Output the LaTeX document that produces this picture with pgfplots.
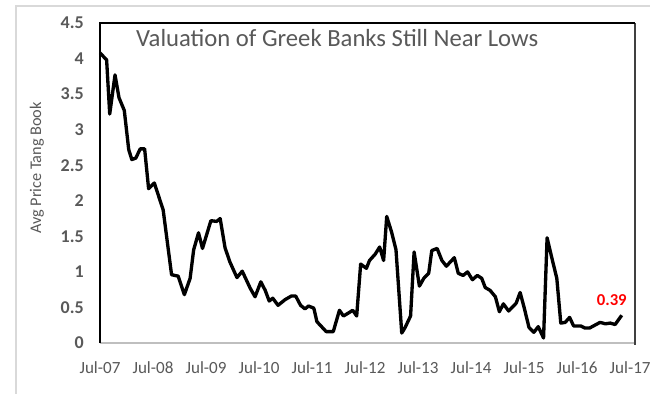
\documentclass[border=0pt]{standalone}
\usepackage{pgfplots}
\pgfplotsset{compat=1.18}
\usepackage{fontspec}
\setmainfont{Carlito}
\definecolor{txtgray}{HTML}{595959}
\definecolor{axgray}{HTML}{BFBFBF}
\definecolor{outergray}{HTML}{D9D9D9}
\definecolor{rightgray}{HTML}{404040}
\begin{document}
\begin{tikzpicture}
\useasboundingbox (0,0) rectangle (487.5pt,294.75pt);
\fill[white] (0,0) rectangle (487.5pt,294.75pt);
\draw[outergray, line width=1.1pt] (12pt,-20pt) -- (12pt,290.25pt) -- (520pt,290.25pt);
\begin{axis}[
  at={(75pt,37.5pt)}, anchor=south west,
  scale only axis, width=401.25pt, height=240pt,
  xmin=0, xmax=121.1, ymin=0, ymax=4.5,
  xtick={0,12,24,36,48,60,72,84,96,108,120},
  xticklabels={Jul-07,Jul-08,Jul-09,Jul-10,Jul-11,Jul-12,Jul-13,Jul-14,Jul-15,Jul-16,Jul-17},
  ytick={0,0.5,1,1.5,2,2.5,3,3.5,4,4.5},
  yticklabels={0,0.5,1,1.5,2,2.5,3,3.5,4,4.5},
  axis line style={draw=none},
  major tick length=0pt,
  /pgf/number format/assume math mode=true,
  xticklabel style={font=\fontsize{12.8}{14}\selectfont, text=txtgray, inner sep=0pt, anchor=north, yshift=-14pt},
  yticklabel style={font=\fontsize{13.5}{15}\selectfont\bfseries, text=txtgray, inner sep=0pt, anchor=east, xshift=-12pt},
  every axis y label/.style={at={(axis description cs:-0.118,0.547)}, anchor=center, rotate=90, font=\fontsize{12.2}{14}\selectfont, text=txtgray},
  ylabel={Avg Price Tang Book},
  clip=false,
]
\draw[axgray, line width=1.5pt] (rel axis cs:0,0) -- (rel axis cs:1,0);
\draw[rightgray, line width=1.1pt] (rel axis cs:1,-0.006) -- (rel axis cs:1,1);
\draw[black, line width=1.4pt] (rel axis cs:0,0) -- (rel axis cs:0,1) -- (rel axis cs:1,1);
\addplot[black, line width=2.5pt, line join=round, mark=none] coordinates {
(0,4.08) (1.5,3.98) (2.2,3.22) (3.4,3.77) (4.3,3.45) (5.5,3.27) (6.5,2.72) (7.2,2.58)
(8.1,2.60) (9.1,2.73) (10.1,2.73) (11.0,2.17) (12.3,2.25) (14.3,1.87) (16.2,0.96) (17.7,0.94)
(19.1,0.68) (20.4,0.91) (21.2,1.31) (22.3,1.55) (23.2,1.33) (25.1,1.72) (26.4,1.71) (27.2,1.75)
(28.3,1.34) (29.4,1.14) (31.0,0.92) (32.2,1.01) (34.0,0.77) (35.1,0.65) (36.4,0.86) (37.4,0.74)
(38.3,0.59) (39.1,0.63) (40.3,0.53) (41.9,0.61) (43.3,0.66) (44.3,0.66) (45.4,0.53) (46.4,0.48)
(47.2,0.52) (48.4,0.49) (49.1,0.30) (50.0,0.24) (51.2,0.16) (52.8,0.16) (54.2,0.46) (55.1,0.38)
(56.2,0.42) (57.2,0.46) (58.1,0.38) (59.0,1.11) (60.3,1.05) (61.0,1.16) (62.3,1.25) (63.3,1.35)
(64.2,1.16) (64.9,1.78) (66.0,1.56) (67.0,1.31) (68.3,0.14) (69.0,0.21) (70.3,0.38) (71.1,1.28)
(72.3,0.80) (73.3,0.91) (74.4,0.98) (75.1,1.30) (76.3,1.33) (77.4,1.16) (78.4,1.08) (79.3,1.14)
(80.2,1.20) (81.1,0.98) (82.2,0.95) (83.2,1.00) (84.3,0.89) (85.4,0.95) (86.4,0.91) (87.2,0.78)
(88.3,0.74) (89.5,0.65) (90.4,0.44) (91.3,0.55) (92.5,0.45) (93.6,0.52) (94.2,0.56) (95.1,0.71)
(96.0,0.50) (97.1,0.22) (98.2,0.15) (99.2,0.23) (100.4,0.07) (101.2,1.48) (102.3,1.19) (103.4,0.91)
(104.3,0.28) (105.3,0.29) (106.3,0.36) (107.2,0.24) (108.8,0.24) (109.8,0.21) (110.8,0.21) (112.0,0.25)
(113.2,0.29) (114.4,0.27) (115.5,0.28) (116.6,0.26) (118.1,0.39)
};
\node[anchor=base west, inner sep=0pt, font=\fontsize{18.5}{22}\selectfont, text=txtgray] at (axis description cs:0.067,0.926) {Valuation of Greek Banks Still Near Lows};
\node[anchor=base, inner sep=0pt, font=\fontsize{12.5}{14}\selectfont\bfseries, text=red, xshift=-7.5pt, yshift=7.5pt] at (axis cs:118.1,0.39) {0.39};
\end{axis}
\end{tikzpicture}
\end{document}
